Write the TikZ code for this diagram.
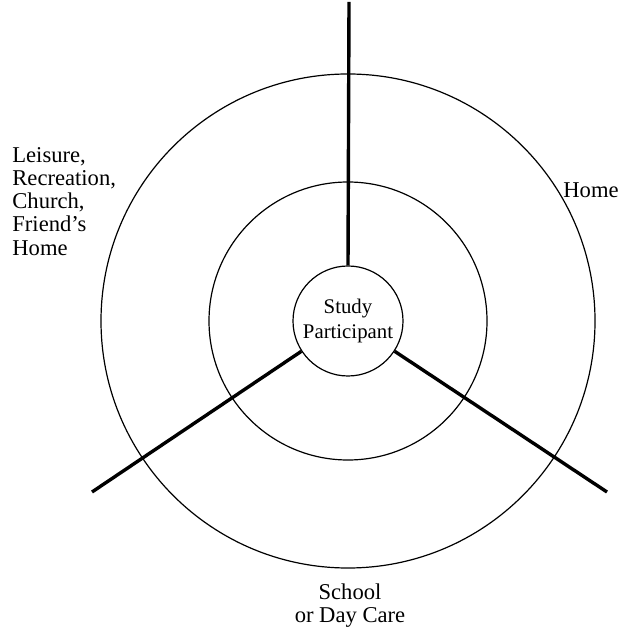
\documentclass[tikz,border=0pt]{standalone}
\usepackage{fontspec}
\setmainfont{Liberation Serif}
\usetikzlibrary{positioning, calc}
\tikzset{
  ring/.style={draw, circle, line width=0.6pt, minimum size=#1, inner sep=0pt},
  spoke/.style={line width=1.7pt},
  lbl/.style={font=\fontsize{11.3}{11.6}\selectfont, align=left, inner sep=0pt},
}

\begin{document}
\begin{tikzpicture}[x=0.5pt, y=0.5pt]
    \useasboundingbox (0,0) rectangle (640,631);
    % rings (minimum size is in pt, so half the unit count)
    \node[ring=247pt] (outer) at (348,310) {};
    \node[ring=139pt] (mid) at (348,310) {};
    \node[ring=55pt, fill=white, font=\fontsize{10.4}{12.5}\selectfont, align=center] (p) at (348,310) {Study\\Participant};
    \coordinate (top) at (349,629);
    \coordinate (lft) at (92,139);
    \coordinate (rgt) at (607,139);
    \draw[spoke] (p.north) -- (top);
    \draw[spoke] (p.213.7) -- (lft);
    \draw[spoke] (p.-33.7) -- (rgt);
    \node[lbl, anchor=north west] (leisure) at (12,484) {Leisure,\\Recreation,\\Church,\\Friend's\\Home};
    \node[lbl, anchor=west] (home) at (563,441) {Home};
    \node[lbl, align=center, anchor=north] (school) at (350,48) {School\\or Day Care};
  \end{tikzpicture}
\end{document}
